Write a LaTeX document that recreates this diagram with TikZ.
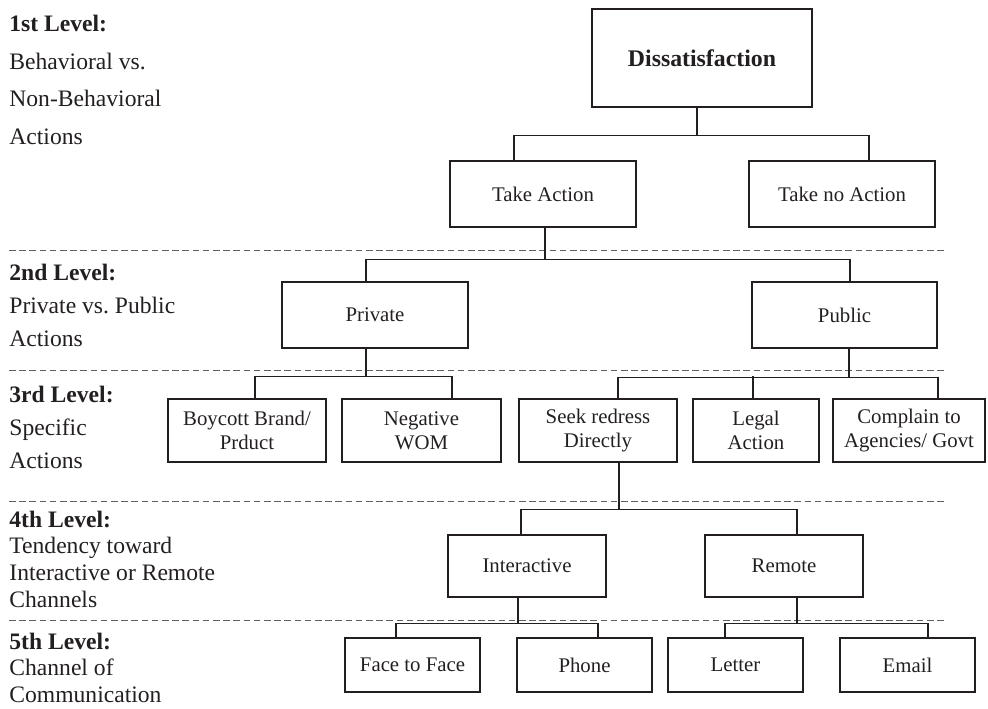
\documentclass[tikz,border=0pt]{standalone}
\usepackage{fontspec}
\setmainfont{Liberation Serif}
\usetikzlibrary{calc}

\definecolor{ink}{RGB}{35,31,32}
\definecolor{rule}{RGB}{95,95,95}

\tikzset{
  box/.style 2 args={draw=ink, text=ink, line width=0.75pt, minimum width=#1, minimum height=#2,
    inner sep=1pt, align=center, font=\fontsize{10.4}{12.2}\selectfont},
  link/.style={draw=ink, line width=0.7pt},
  lvl/.style={anchor=base west, inner sep=0pt, align=left, text=ink,
    font=\fontsize{11.8}{#1}\selectfont},
  levelrule/.style={draw=rule, line width=0.5pt, dash pattern=on 3.3pt off 1.8pt}
}

\begin{document}
\begin{tikzpicture}[x=0.5pt, y=-0.5pt]
	\useasboundingbox (0,0) rectangle (988,708);

	% level labels (anchored at the baseline of their last line)
	\node[lvl=18.7pt] (l1) at (9,144) {\textbf{1st Level:}\\Behavioral vs.\\Non-Behavioral\\Actions};
	\node[lvl=16.3pt] (l2) at (9,346) {\textbf{2nd Level:}\\Private vs.\ Public\\Actions};
	\node[lvl=16.3pt] (l3) at (9,468) {\textbf{3rd Level:}\\Specific\\Actions};
	\node[lvl=13.3pt] (l4) at (9,607) {\textbf{4th Level:}\\Tendency toward\\Interactive or Remote\\Channels};
	\node[lvl=13.1pt] (l5) at (9,702) {\textbf{5th Level:}\\Channel of\\Communication};

	% level separators
	\foreach \y in {250,370,501,620}
		\draw[levelrule] (9,\y) -- (947,\y);

	% boxes
	\node[box={110pt}{49pt}, font=\fontsize{11.9}{14}\selectfont\bfseries] (diss) at (702,58) {Dissatisfaction};
	\node[box={93pt}{33pt}] (act) at (543,194) {Take Action};
	\node[box={93pt}{33pt}] (noact) at (842,194) {Take no Action};

	\node[box={93pt}{33pt}] (priv) at (375,315) {Private};
	\node[box={92.5pt}{33pt}] (pub) at (844.5,315) {Public};

	\node[box={79pt}{31.5pt}] (boy) at (247,430.5) {Boycott Brand/\\Prduct};
	\node[box={79.5pt}{31.5pt}] (wom) at (421.5,430.5) {Negative\\WOM};
	\node[box={79pt}{31.5pt}] (seek) at (598,430.5) {Seek redress\\Directly};
	\node[box={63pt}{31.5pt}] (legal) at (756,430.5) {Legal\\Action};
	\node[box={76pt}{31.5pt}] (compl) at (909,430.5) {Complain to\\Agencies/ Govt};

	\node[box={79pt}{31pt}] (inter) at (527,566) {Interactive};
	\node[box={79pt}{31pt}] (remote) at (784,566) {Remote};

	\node[box={67.5pt}{27pt}] (face) at (412.5,665) {Face to Face};
	\node[box={67.5pt}{27pt}] (phone) at (584.5,665) {Phone};
	\node[box={67.5pt}{27pt}] (letter) at (735.5,665) {Letter};
	\node[box={67.5pt}{27pt}] (email) at (907.5,665) {Email};

	% tree links
	\draw[link] ($(diss.south)+(-5,0)$) -- ++(0,28) coordinate (j1);
	\draw[link] ($(act.north)+(-29,0)$) |- (j1) -| ($(noact.north)+(27,0)$);

	\draw[link] ($(act.south)+(2,0)$) -- ++(0,32) coordinate (j2);
	\draw[link] ($(priv.north)+(-9,0)$) |- (j2) -| ($(pub.north)+(5.5,0)$);

	\draw[link] ($(priv.south)+(-9,0)$) -- ++(0,28) coordinate (j3);
	\draw[link] ($(boy.north)+(8,0)$) |- (j3) -| ($(wom.north)+(30.5,0)$);

	\draw[link] ($(pub.south)+(4.5,0)$) -- ++(0,29) coordinate (j4);
	\draw[link] ($(seek.north)+(20,0)$) |- (j4) -| ($(compl.north)+(29,0)$);
	\draw[link] ($(legal.north)+(-3,0)$) -- ++(0,-22);

	\draw[link] ($(seek.south)+(21,0)$) -- ++(0,47) coordinate (j5);
	\draw[link] ($(inter.north)+(-6,0)$) |- (j5) -| ($(remote.north)+(13,0)$);

	\draw[link] ($(inter.south)+(-9,0)$) -- ++(0,26) coordinate (j6);
	\draw[link] ($(face.north)+(-16.5,0)$) |- (j6) -| ($(phone.north)+(13.5,0)$);

	\draw[link] ($(remote.south)+(13,0)$) -- ++(0,26) coordinate (j7);
	\draw[link] ($(letter.north)+(-10.5,0)$) |- (j7) -| ($(email.north)+(20.5,0)$);
\end{tikzpicture}
\end{document}
